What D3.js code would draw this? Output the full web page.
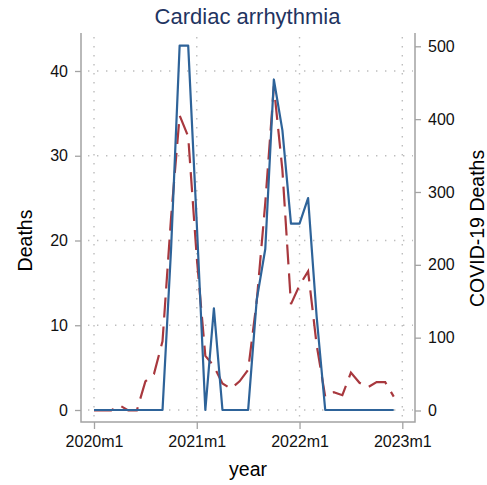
<!DOCTYPE html>
<html>
<head>
<meta charset="utf-8">
<script src="https://cdn.jsdelivr.net/npm/d3@7"></script>
<style>
  body { margin: 0; background: #fff; }
  svg { display: block; }
  text { font-family: "Liberation Sans", Arial, Helvetica, sans-serif; }
</style>
</head>
<body>
<svg id="chart"></svg>
<script>
// Monthly categories, 2020m1 .. 2022m12
const months = [
  "2020m1","2020m2","2020m3","2020m4","2020m5","2020m6","2020m7","2020m8","2020m9","2020m10","2020m11","2020m12",
  "2021m1","2021m2","2021m3","2021m4","2021m5","2021m6","2021m7","2021m8","2021m9","2021m10","2021m11","2021m12",
  "2022m1","2022m2","2022m3","2022m4","2022m5","2022m6","2022m7","2022m8","2022m9","2022m10","2022m11","2022m12"
];

// Cardiac arrhythmia deaths (left axis)
const deaths = [
  0, 0, 0, 0, 0, 0, 0, 0, 0, 19, 43, 43,
  22, 0, 12, 0, 0, 0, 0, 13, 19, 39, 33, 22,
  22, 25, 11, 0, 0, 0, 0, 0, 0, 0, 0, 0
];

// COVID-19 deaths (right axis)
const covidDeaths = [
  0, 0, 0, 7, 0, 0, 40, 50, 95, 265, 405, 376,
  210, 75, 61, 37, 30, 40, 56, 150, 285, 445, 330, 146,
  172, 191, 90, 19, 25, 21, 52, 38, 32, 39, 39, 19
];

const xTickMonths = [0, 12, 24, 36];
const xTickLabels = ["2020m1", "2021m1", "2022m1", "2023m1"];
const leftTicks = [0, 10, 20, 30, 40];
const rightTicks = [0, 100, 200, 300, 400, 500];

// Layout
const width = 487, height = 485;
const frame = { left: 81, right: 415, top: 33, bottom: 422 };
const colors = {
    deaths: "#2e6399",
    covid: "#a8383e",
    axis: "#a3a3a3",
    grid: "#bdbdbd",
    title: "#1f3461"
};

const svg = d3.select("#chart").attr("width", width).attr("height", height);

const x = d3.scaleLinear().domain([0, 36]).range([94, 402.3]);
const yLeft = d3.scaleLinear().domain([0, 40]).range([410, 71]);
const yRight = d3.scaleLinear().domain([0, 500]).range([410.5, 46.3]);

// Dotted grid
const grid = svg.append("g")
    .attr("stroke", colors.grid)
    .attr("stroke-width", 1.4)
    .attr("stroke-dasharray", "1.4,7.6");
grid.selectAll(".hgrid").data(leftTicks).enter().append("line")
    .attr("x1", frame.left + 7).attr("x2", frame.right - 2)
    .attr("y1", d => yLeft(d)).attr("y2", d => yLeft(d));
grid.selectAll(".vgrid").data(xTickMonths).enter().append("line")
    .attr("x1", d => x(d)).attr("x2", d => x(d))
    .attr("y1", frame.top + 4).attr("y2", frame.bottom - 2);

// Axes
function styleAxis(g) {
    g.select(".domain").remove();
    g.selectAll(".tick line").attr("stroke", colors.axis).attr("stroke-width", 1.3);
    g.selectAll(".tick text").attr("fill", "#111").style("font-size", "16px");
}

svg.append("g").attr("transform", `translate(${frame.left},0)`)
    .call(d3.axisLeft(yLeft).tickValues(leftTicks).tickSize(6).tickPadding(7))
    .call(styleAxis);

svg.append("g").attr("transform", `translate(${frame.right},0)`)
    .call(d3.axisRight(yRight).tickValues(rightTicks).tickSize(6).tickPadding(7))
    .call(styleAxis);

svg.append("g").attr("transform", `translate(0,${frame.bottom})`)
    .call(d3.axisBottom(x).tickValues(xTickMonths).tickFormat((d, i) => xTickLabels[i]).tickSize(7).tickPadding(7))
    .call(styleAxis);

// Axis lines (left, bottom, right)
svg.append("path")
    .attr("d", `M${frame.left},${frame.top}V${frame.bottom}H${frame.right}V${frame.top}`)
    .attr("fill", "none")
    .attr("stroke", colors.axis)
    .attr("stroke-width", 1.5);

// Series lines
const lineDeaths = d3.line().x((d, i) => x(i)).y(d => yLeft(d));
const lineCovid = d3.line().x((d, i) => x(i)).y(d => yRight(d));

svg.append("path").datum(covidDeaths)
    .attr("d", lineCovid)
    .attr("fill", "none")
    .attr("stroke", colors.covid)
    .attr("stroke-width", 2.2)
    .attr("stroke-dasharray", "20,9");

svg.append("path").datum(deaths)
    .attr("d", lineDeaths)
    .attr("fill", "none")
    .attr("stroke", colors.deaths)
    .attr("stroke-width", 2.2)
    .attr("stroke-linejoin", "round");

// Titles
svg.append("text")
    .attr("x", 247.5).attr("y", 24)
    .attr("text-anchor", "middle")
    .attr("fill", colors.title)
    .style("font-size", "22px")
    .text("Cardiac arrhythmia");

svg.append("text")
    .attr("transform", `translate(32,${(yLeft(0) + yLeft(40)) / 2}) rotate(-90)`)
    .attr("text-anchor", "middle")
    .style("font-size", "19.5px")
    .text("Deaths");

svg.append("text")
    .attr("transform", `translate(484,${(yRight(0) + yRight(500)) / 2}) rotate(-90)`)
    .attr("text-anchor", "middle")
    .style("font-size", "19.5px")
    .text("COVID-19 Deaths");

svg.append("text")
    .attr("x", 248).attr("y", 476)
    .attr("text-anchor", "middle")
    .style("font-size", "19.5px")
    .text("year");
</script>
</body>
</html>
